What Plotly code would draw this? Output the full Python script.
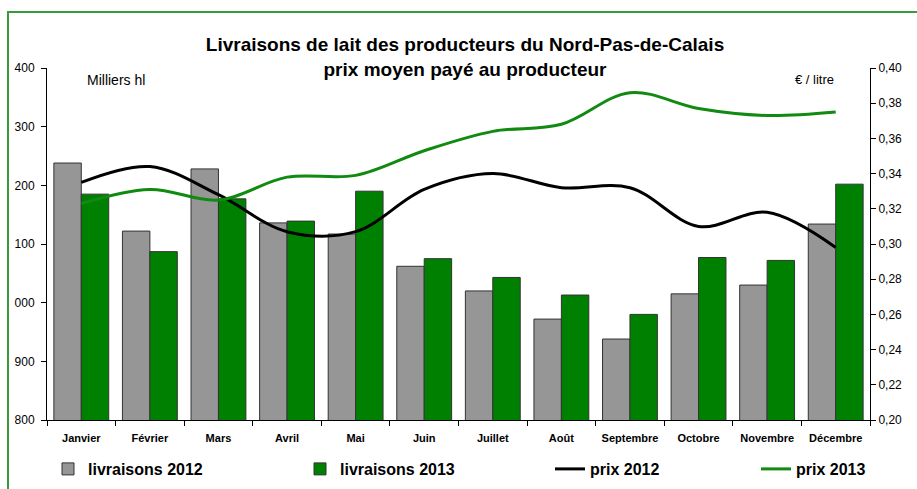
import plotly.graph_objects as go

MONTHS = ["Janvier", "Février", "Mars", "Avril", "Mai", "Juin", "Juillet",
          "Août", "Septembre", "Octobre", "Novembre", "Décembre"]

# livraisons (milliers hl)
LIVRAISONS_2012 = [1238, 1122, 1228, 1136, 1117, 1062, 1020, 972, 938, 1015, 1030, 1134]
LIVRAISONS_2013 = [1185, 1087, 1177, 1139, 1190, 1075, 1043, 1013, 980, 1077, 1072, 1202]

# prix moyen (€ / litre)
PRIX_2012 = [0.335, 0.344, 0.328, 0.307, 0.307, 0.331, 0.340, 0.332, 0.332, 0.310, 0.318, 0.298]
PRIX_2013 = [0.323, 0.331, 0.325, 0.338, 0.339, 0.353, 0.364, 0.368, 0.386, 0.377, 0.373, 0.375]

LEFT_TICKS = [800, 900, 1000, 1100, 1200, 1300, 1400]
LEFT_TICK_TEXT = ["800", "900", "000", "100", "200", "300", "400"]

FONT = "Liberation Sans, Arial, sans-serif"
GREY = "#969696"
GREEN = "#008000"

# plot area in pixels
L, R, T, B = 47, 870, 68, 420
PW, PH = R - L, B - T


def px_x(p):
    return (p - L) / PW


def px_y(p):
    return (B - p) / PH


fig = go.Figure()

fig.add_trace(go.Bar(x=MONTHS, y=LIVRAISONS_2012, name="livraisons 2012",
                     marker=dict(color=GREY, line=dict(color="#333333", width=1)),
                     legend="legend", showlegend=True))
fig.add_trace(go.Bar(x=MONTHS, y=LIVRAISONS_2013, name="livraisons 2013",
                     marker=dict(color=GREEN, line=dict(color="#333333", width=1)),
                     legend="legend2", showlegend=True))
fig.add_trace(go.Scatter(x=MONTHS, y=PRIX_2012, name="prix 2012", yaxis="y2",
                         mode="lines", line=dict(color="black", width=3, shape="spline", smoothing=1),
                         legend="legend3", showlegend=True))
fig.add_trace(go.Scatter(x=MONTHS, y=PRIX_2013, name="prix 2013", yaxis="y2",
                         mode="lines", line=dict(color="#108a10", width=3, shape="spline", smoothing=1),
                         legend="legend4", showlegend=True))

legend_font = dict(family=FONT, size=16, color="black", weight="bold")


def _legend(p):
    return dict(x=px_x(p), y=px_y(469), xref="paper", yref="paper",
                xanchor="left", yanchor="middle", font=legend_font,
                bgcolor="rgba(0,0,0,0)", itemwidth=30, visible=True)


fig.update_layout(
    width=917, height=489,
    showlegend=True,
    margin=dict(l=L, r=917 - R, t=T, b=489 - B, autoexpand=False),
    paper_bgcolor="white", plot_bgcolor="white",
    separators=", ",
    barmode="group", bargap=0.2, bargroupgap=0,
    font=dict(family=FONT, size=12, color="black"),
    title=dict(text="Livraisons de lait des producteurs du Nord-Pas-de-Calais<br>prix moyen payé au producteur",
               x=465 / 917, xanchor="center", y=1 - 51 / 489, yanchor="middle",
               font=dict(family=FONT, size=19, color="black", weight="bold")),
    xaxis=dict(showline=True, linecolor="black", linewidth=1, ticks="outside",
               tickson="boundaries", ticklen=5, tickcolor="black", tickangle=0,
               ticklabelstandoff=8,
               tickfont=dict(family=FONT, size=11, weight="bold"), showgrid=False,
               automargin=False),
    yaxis=dict(range=[800, 1400], tickvals=LEFT_TICKS, ticktext=LEFT_TICK_TEXT,
               showline=True, linecolor="black", linewidth=1, ticks="outside",
               ticklen=5, tickcolor="black", showgrid=False, zeroline=False,
               ticklabelstandoff=4,
               tickfont=dict(family=FONT, size=12), automargin=False),
    yaxis2=dict(range=[0.20, 0.40], dtick=0.02, tickformat=".2f", overlaying="y",
                side="right", showline=True, linecolor="black", linewidth=1,
                ticks="outside", ticklen=5, tickcolor="black", showgrid=False,
                zeroline=False, tickfont=dict(family=FONT, size=12), automargin=False),
    legend=_legend(48),
    legend2=_legend(300),
    legend3=_legend(550),
    legend4=_legend(756),
    annotations=[
        dict(text="Milliers hl", x=px_x(85), y=px_y(80), xref="paper", yref="paper",
             xanchor="left", yanchor="middle", showarrow=False, font=dict(size=14)),
        dict(text="€ / litre", x=px_x(836), y=px_y(80), xref="paper", yref="paper",
             xanchor="right", yanchor="middle", showarrow=False, font=dict(size=13)),
    ],
    shapes=[dict(type="rect", xref="paper", yref="paper",
                 x0=px_x(8), x1=px_x(960), y0=px_y(540), y1=px_y(12),
                 line=dict(color="#3a9a3a", width=2), fillcolor="rgba(0,0,0,0)")],
)

# the page body has a default 8px margin; drop it so the figure sits at 0,0
fig.write_html("out.html", config={"displayModeBar": False},
               post_script="document.body.style.margin = '0';")
